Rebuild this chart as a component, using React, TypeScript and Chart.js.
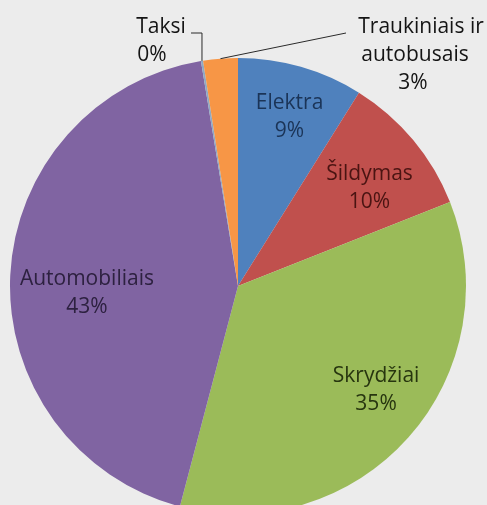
import React, { useEffect, useRef } from "react";
import { Chart, registerables } from "chart.js";

Chart.register(...registerables);

// ---- data ----
const categories = ["Elektra", "Šildymas", "Skrydžiai", "Automobiliais", "Taksi", "Traukiniais ir autobusais"];
const shares = [8.9, 10.1, 35.1, 43.3, 0.15, 2.45];
const percentLabels = ["9%", "10%", "35%", "43%", "0%", "3%"];
const labelLines = [["Elektra"], ["Šildymas"], ["Skrydžiai"], ["Automobiliais"], ["Taksi"], ["Traukiniais ir", "autobusais"]];

// ---- style ----
const sliceColors = ["#4f81bd", "#c0504d", "#9bbb59", "#8064a2", "#8fa9c4", "#f79646"];
const textColors = ["#1b3457", "#4a1412", "#27350f", "#2d2140", "#141414", "#141414"];
const insideRadiusFraction = [0.779, 0.722, 0.755, 0.663];
const insideAngleShiftDeg = [0.85, 2.8, -4.9, -4.8];
const FONT = "21px 'Open Sans', 'Noto Sans', sans-serif";
const LINE_GAP = 28;
const BG = "#ececec";

// outside label layout: leader line path points, text centre x per line, first baseline y
const outsideLayout: Record<number, { elbow: [number, number][]; textX: number[]; baseY: number }> = {
  4: { elbow: [[-1, 33], [191, 33]], textX: [161, 152], baseY: 33 },
  5: { elbow: [[346, 33]], textX: [421, 415, 413], baseY: 33 },
};

const labelPlugin = {
  id: "sliceLabels",
  afterDatasetsDraw(chart: any) {
    const ctx = chart.ctx;
    const meta = chart.getDatasetMeta(0);
    ctx.save();
    ctx.font = FONT;
    ctx.textAlign = "center";
    ctx.textBaseline = "alphabetic";
    meta.data.forEach((arc: any, i: number) => {
      const { x, y, startAngle, endAngle, outerRadius } = arc.getProps(
        ["x", "y", "startAngle", "endAngle", "outerRadius"],
        true
      );
      const mid = (startAngle + endAngle) / 2;
      const lines = [...labelLines[i], percentLabels[i]];
      ctx.fillStyle = textColors[i];
      if (i < insideRadiusFraction.length) {
        const a = mid + (insideAngleShiftDeg[i] * Math.PI) / 180;
        const r = outerRadius * insideRadiusFraction[i];
        const cx = x + Math.cos(a) * r;
        const cy = y + Math.sin(a) * r;
        const n = lines.length;
        lines.forEach((t, k) => {
          const baseline = cy + (k - (n - 1) / 2) * LINE_GAP + 7;
          ctx.fillText(t, cx, baseline);
        });
      } else {
        const lay = outsideLayout[i];
        const sx = x + Math.cos(mid) * outerRadius;
        const sy = y + Math.sin(mid) * outerRadius;
        ctx.strokeStyle = "#2a2a2a";
        ctx.lineWidth = 1;
        ctx.beginPath();
        ctx.moveTo(sx, sy);
        lay.elbow.forEach(([ex, ey]) => {
          ctx.lineTo(ex < 0 ? sx : ex, ey);
        });
        ctx.stroke();
        lines.forEach((t, k) => {
          ctx.fillText(t, lay.textX[k], lay.baseY + k * LINE_GAP);
        });
      }
    });
    ctx.restore();
  },
};

export default function App() {
  const ref = useRef<HTMLCanvasElement | null>(null);
  useEffect(() => {
    if (!ref.current) return;
    const chart = new Chart(ref.current, {
      type: "pie",
      data: {
        labels: categories,
        datasets: [
          {
            data: shares,
            backgroundColor: sliceColors,
            borderWidth: 0,
            radius: 228,
            clip: false as any,
          } as any,
        ],
      },
      options: {
        responsive: false,
        animation: false,
        layout: { padding: { top: 67, bottom: 0, left: 0, right: 11 } },
        plugins: {
          legend: { display: false },
          tooltip: { enabled: false },
        },
      },
      plugins: [labelPlugin],
    });
    return () => chart.destroy();
  }, []);
  return (
    <div style={{ position: "fixed", left: 0, top: 0, width: 487, height: 505, background: BG, overflow: "hidden" }}>
      <canvas ref={ref} width={487} height={505} style={{ display: "block", width: 487, height: 505 }} />
    </div>
  );
}
